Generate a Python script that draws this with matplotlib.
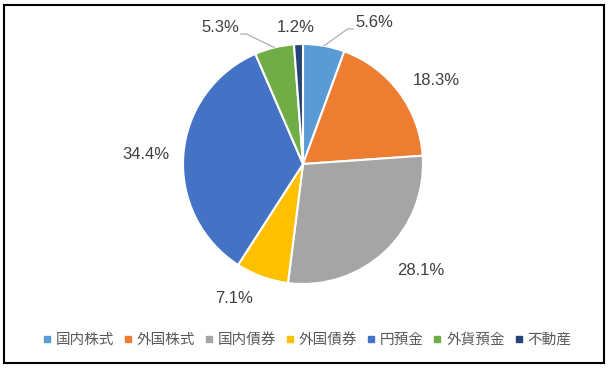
import numpy as np
import matplotlib
matplotlib.use('Agg')
from matplotlib import pyplot as plt
from matplotlib.patches import Rectangle
from matplotlib.lines import Line2D

plt.rcParams['font.family'] = ['Liberation Sans', 'Noto Sans CJK JP', 'DejaVu Sans']

# data
categories = ['国内株式', '外国株式', '国内債券', '外国債券', '円預金', '外貨預金', '不動産']
shares = [5.6, 18.3, 28.1, 7.1, 34.4, 5.3, 1.2]
colors = ['#5B9BD5', '#ED7D31', '#A5A5A5', '#FFC000', '#4472C4', '#70AD47', '#264478']

# label placement (angle in degrees, distance in pie radii), Excel style
label_angle = [63.3, 32.0, -42.2, -117.2, 176.7, 121.4, 92.9]
label_dist = [1.316, 1.307, 1.327, 1.256, 1.31, 1.328, 1.143]
leader = [True, False, False, False, False, True, False]

W, H = 611, 368
cx, cy, rad = 303, 164, 120  # pie centre / radius in pixels

fig = plt.figure(figsize=(W / 100, H / 100), dpi=100)
ax = fig.add_axes([0, 0, 1, 1])

wedges, _ = ax.pie(shares, colors=colors, startangle=90, counterclock=False,
                   radius=1.0, wedgeprops=dict(edgecolor='white', linewidth=1.5))

# pie resets limits, so map data units to pixels afterwards
ax.set_xlim(-cx / rad, (W - cx) / rad)
ax.set_ylim((cy - H) / rad, cy / rad)
ax.axis('off')

txt_color = '#404040'
for w, val, ang, dist, lead in zip(wedges, shares, label_angle, label_dist, leader):
    a = np.deg2rad(ang)
    lx, ly = dist * np.cos(a), dist * np.sin(a)
    ax.text(lx, ly, f'{val:.1f}%', ha='center', va='center', fontsize=12,
            color=txt_color)
    if lead:
        mid = np.deg2rad((w.theta1 + w.theta2) / 2)
        sx, sy = np.cos(mid), np.sin(mid)
        side = 1 if lx > sx else -1
        ex, ey = lx - side * 0.17, ly - 0.05
        bx = ex - side * 0.05
        ax.plot([sx, bx, ex], [sy, ey, ey], color='#A6A6A6', lw=0.8)

handles = [Line2D([], [], marker='s', linestyle='none', markersize=4.5,
                  markerfacecolor=c, markeredgecolor=c) for c in colors]
fig.legend(handles, categories, loc='center', bbox_to_anchor=(307 / W, 1 - 340 / H),
           ncol=len(categories), frameon=False, fontsize=10.5, handlelength=0.5,
           handletextpad=0.35, columnspacing=0.7, labelcolor='#595959')

fig.patches.append(Rectangle((4 / W, 1 - 363 / H), 600 / W, 358 / H,
                             transform=fig.transFigure, fill=False,
                             edgecolor='black', linewidth=1.5))

fig.savefig('out.png', dpi=100)
